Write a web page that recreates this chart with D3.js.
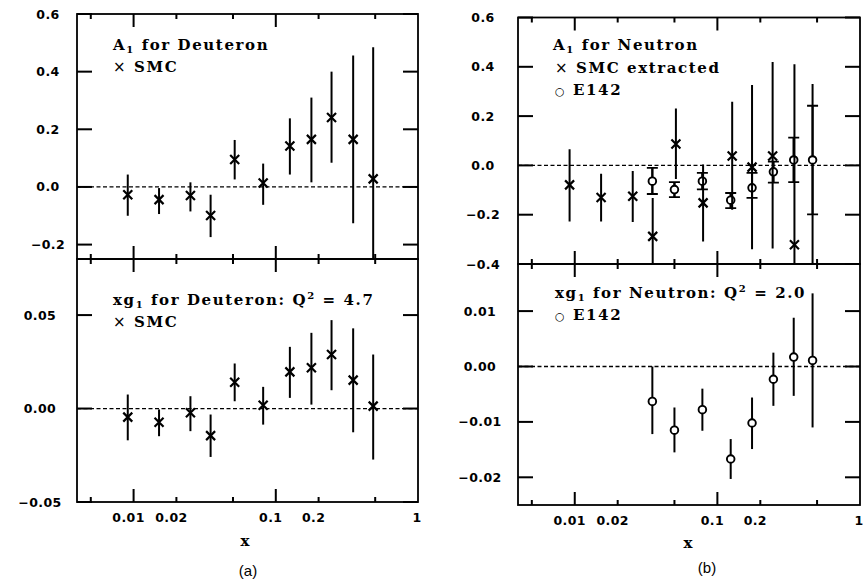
<!DOCTYPE html>
<html>
<head>
<meta charset="utf-8">
<script src="https://cdn.jsdelivr.net/npm/d3@7"></script>
<style>
  body { margin: 0; background: #fff; }
  svg { display: block; }
  .tl { font-family: "DejaVu Sans", sans-serif; font-weight: bold; font-size: 12.5px; fill: #000; letter-spacing: 0.4px; }
  .lbl { font-family: "DejaVu Serif", serif; font-weight: bold; font-size: 15px; fill: #000; }
</style>
</head>
<body>
<svg id="chart" width="868" height="582"><defs id="defs"></defs></svg>
<script>
/* ---------------- data ---------------- */

// SMC deuteron, x bins
var smcDX = [0.0091, 0.0151, 0.0251, 0.0348, 0.0514, 0.0815, 0.1256, 0.178, 0.2466, 0.35, 0.484];
// A1 deuteron
var smcDA1   = [-0.027, -0.044, -0.030, -0.099, 0.095, 0.014, 0.142, 0.165, 0.241, 0.165, 0.028];
var smcDA1Lo = [-0.100, -0.094, -0.085, -0.174, 0.026, -0.062, 0.043, 0.016, 0.084, -0.126, -0.43];
var smcDA1Hi = [0.043, -0.004, 0.016, -0.027, 0.163, 0.081, 0.238, 0.310, 0.400, 0.456, 0.485];
// xg1 deuteron
var smcDxg1   = [-0.0046, -0.0073, -0.0023, -0.0145, 0.0141, 0.0018, 0.0196, 0.0218, 0.0289, 0.0152, 0.0013];
var smcDxg1Lo = [-0.0170, -0.0148, -0.0121, -0.0259, 0.0039, -0.0086, 0.0057, 0.0021, 0.0098, -0.0127, -0.0273];
var smcDxg1Hi = [0.0075, -0.0005, 0.0066, -0.0032, 0.0241, 0.0116, 0.0330, 0.0405, 0.0473, 0.0429, 0.0289];

// SMC extracted neutron A1
var smcNX    = [0.0092, 0.0153, 0.0255, 0.0352, 0.0512, 0.0794, 0.127, 0.175, 0.244, 0.347];
var smcNA1   = [-0.079, -0.130, -0.125, -0.288, 0.087, -0.152, 0.038, -0.007, 0.038, -0.322];
var smcNA1Lo = [-0.228, -0.228, -0.230, -0.45, -0.055, -0.309, -0.18, -0.34, -0.337, -1.05];
var smcNA1Hi = [0.066, -0.034, -0.023, -0.132, 0.231, 0.004, 0.258, 0.326, 0.419, 0.41];

// E142 neutron
var e142X    = [0.035, 0.050, 0.0785, 0.124, 0.175, 0.247, 0.343, 0.465];
var e142A1   = [-0.064, -0.098, -0.064, -0.141, -0.091, -0.026, 0.022, 0.022];
var e142A1Lo = [-0.116, -0.129, -0.097, -0.173, -0.132, -0.070, -0.068, -0.199];   // capped
var e142A1Hi = [-0.010, -0.068, -0.030, -0.112, -0.030, 0.015, 0.113, 0.242];
var e142A1TotLo = [-0.116, -0.129, -0.097, -0.173, -0.132, -0.070, -0.068, -0.60]; // full line
var e142A1TotHi = [-0.010, -0.068, -0.030, -0.112, -0.030, 0.015, 0.113, 0.330];
var e142xg1   = [-0.0063, -0.0115, -0.0078, -0.0167, -0.0102, -0.0023, 0.0017, 0.0011];
var e142xg1Lo = [-0.0122, -0.0155, -0.0116, -0.0203, -0.0149, -0.0071, -0.0053, -0.0110];
var e142xg1Hi = [0.0000, -0.0074, -0.0040, -0.0131, -0.0056, 0.0025, 0.0088, 0.0132];

// axes
var xMajor = [0.01, 0.1];
var xMinor = [0.005, 0.02, 0.05, 0.2, 0.5];
var xLabelVals = [0.01, 0.02, 0.1, 0.2, 1];
var xLabels = ["0.01", "0.02", "0.1", "0.2", "1"];

var tlTicks = [-0.2, 0, 0.2, 0.4, 0.6], tlLabels = ["\u22120.2", "0.0", "0.2", "0.4", "0.6"];
var blTicks = [-0.05, 0, 0.05],         blLabels = ["\u22120.05", "0.00", "0.05"];
var trTicks = [-0.4, -0.2, 0, 0.2, 0.4, 0.6], trLabels = ["\u22120.4", "\u22120.2", "0.0", "0.2", "0.4", "0.6"];
var brTicks = [-0.02, -0.01, 0, 0.01],  brLabels = ["\u22120.02", "\u22120.01", "0.00", "0.01"];

/* ---------------- drawing ---------------- */

var svg = d3.select("#chart");
var defs = d3.select("#defs");
var clipN = 0;
var panels = [];

function zip(xs, ys, lo, hi) {
    return xs.map(function (d, i) { return { x: d, y: ys[i], lo: lo[i], hi: hi[i] }; });
}

function panel(p) {
    var x = d3.scaleLog().domain([0.004, 1]).range([p.x0, p.x1]);
    var y = d3.scaleLinear().domain(p.yDom).range([p.y1, p.y0]);
    var g = svg.append("g");

    var id = "clip" + (clipN++);
    defs.append("clipPath").attr("id", id).append("rect")
        .attr("x", p.x0).attr("y", p.y0).attr("width", p.x1 - p.x0).attr("height", p.y1 - p.y0);

    // zero line
    g.append("line")
        .attr("x1", p.x0).attr("x2", p.x1).attr("y1", y(0)).attr("y2", y(0))
        .attr("stroke", "#000").attr("stroke-width", 1.3).attr("stroke-dasharray", "4,2.5");

    var marks = g.append("g").attr("clip-path", "url(#" + id + ")");

    (p.sets || []).forEach(function (s) {
        var data = zip(s.x, s.y, s.lo, s.hi);
        var sg = marks.append("g");
        if (s.tlo) {
            sg.selectAll("line.tot").data(data.map(function (d, i) { return { x: d.x, lo: s.tlo[i], hi: s.thi[i] }; }))
                .join("line").attr("class", "tot")
                .attr("x1", function (d) { return x(d.x); }).attr("x2", function (d) { return x(d.x); })
                .attr("y1", function (d) { return y(d.lo); }).attr("y2", function (d) { return y(d.hi); })
                .attr("stroke", "#000").attr("stroke-width", 2);
        }
        sg.selectAll("line.err").data(data).join("line").attr("class", "err")
            .attr("x1", function (d) { return x(d.x); }).attr("x2", function (d) { return x(d.x); })
            .attr("y1", function (d) { return y(d.lo); }).attr("y2", function (d) { return y(d.hi); })
            .attr("stroke", "#000").attr("stroke-width", 2);
        if (s.caps) {
            ["lo", "hi"].forEach(function (k) {
                sg.selectAll("line.cap" + k).data(data).join("line").attr("class", "cap" + k)
                    .attr("x1", function (d) { return x(d.x) - 5.5; }).attr("x2", function (d) { return x(d.x) + 5.5; })
                    .attr("y1", function (d) { return y(d[k]); }).attr("y2", function (d) { return y(d[k]); })
                    .attr("stroke", "#000").attr("stroke-width", 1.8);
            });
        }
        if (s.mark === "x") {
            sg.selectAll("path.m").data(data).join("path").attr("class", "m")
                .attr("d", function (d) {
                    var cx = x(d.x), cy = y(d.y), r = 4.5;
                    return "M" + (cx - r) + "," + (cy - r) + "L" + (cx + r) + "," + (cy + r) +
                           "M" + (cx - r) + "," + (cy + r) + "L" + (cx + r) + "," + (cy - r);
                })
                .attr("stroke", "#000").attr("stroke-width", 2.2).attr("fill", "none");
        } else {
            sg.selectAll("circle.m").data(data).join("circle").attr("class", "m")
                .attr("cx", function (d) { return x(d.x); }).attr("cy", function (d) { return y(d.y); })
                .attr("r", 3.8).attr("fill", "#fff").attr("stroke", "#000").attr("stroke-width", 1.9);
        }
    });

    // frame
    g.append("rect")
        .attr("x", p.x0).attr("y", p.y0).attr("width", p.x1 - p.x0).attr("height", p.y1 - p.y0)
        .attr("fill", "none").attr("stroke", "#000").attr("stroke-width", 1.8);

    // tick labels
    g.selectAll("text.ylab").data(p.yTicks).join("text").attr("class", "tl ylab")
        .attr("x", p.x0 - p.labOff).attr("y", function (d) { return y(d); }).attr("dy", "0.36em")
        .attr("text-anchor", "middle")
        .text(function (d, i) { return p.yLabels[i]; });

    if (p.xLab) {
        g.selectAll("text.xlab").data(xLabelVals).join("text").attr("class", "tl xlab")
            .attr("x", function (d) { return x(d) + (d === 1 ? -1 : -5); })
            .attr("y", p.y1 + 20).attr("text-anchor", "middle")
            .text(function (d, i) { return xLabels[i]; });
    }

    // legend text
    p.text.forEach(function (t) {
        var tx = g.append("text").attr("class", "lbl").attr("x", t.x).attr("y", t.y)
            .attr("letter-spacing", 1.6);
        t.parts.forEach(function (q) {
            var ts = tx.append("tspan").text(q[0]);
            if (q[1] === "sub") ts.attr("font-size", 10).attr("dy", 3);
            if (q[1] === "sup") ts.attr("font-size", 10).attr("dy", -6);
            if (q[1] === "base") ts.attr("dy", q[2]);
            if (q[1] === "sym") ts.attr("font-family", "DejaVu Sans").attr("font-weight", "normal").attr("font-size", q[2]);
        });
    });

    panels.push({ p: p, x: x, y: y });
}

// ticks for every panel as small filled rects, drawn last
function drawTicks(o, n) {
    var p = o.p, x = o.x, y = o.y;
    var tk = [];
    xMajor.forEach(function (d) {
        tk.push({ x: x(d) - 1, y: p.y1 - 13, w: 2, h: 13 });
        tk.push({ x: x(d) - 1, y: p.y0, w: 2, h: 13 });
    });
    xMinor.forEach(function (d) {
        tk.push({ x: x(d) - 1, y: p.y1 - 5, w: 2, h: 5 });
        tk.push({ x: x(d) - 1, y: p.y0, w: 2, h: 5 });
    });
    p.yTicks.forEach(function (d) {
        tk.push({ x: p.x0, y: y(d) - 1, w: 15, h: 2 });
        tk.push({ x: p.x1 - 15, y: y(d) - 1, w: 15, h: 2 });
    });
    svg.append("g").attr("class", "ticks" + n)
        .selectAll("rect").data(tk).join("rect")
        .attr("x", function (d) { return d.x; }).attr("y", function (d) { return d.y; })
        .attr("width", function (d) { return d.w; }).attr("height", function (d) { return d.h; })
        .attr("fill", "#000");
}

// (a) left
panel({
    x0: 77, x1: 418, y0: 14, y1: 259, yDom: [-0.25, 0.6], yTicks: tlTicks, yLabels: tlLabels, labOff: 29,
    sets: [{ x: smcDX, y: smcDA1, lo: smcDA1Lo, hi: smcDA1Hi, mark: "x" }],
    text: [
        { x: 113, y: 50, parts: [["A"], ["1", "sub"], [" for Deuteron", "base", -3]] },
        { x: 113, y: 72, parts: [["\u00d7", "sym", 15], [" SMC"]] }
    ]
});
panel({
    x0: 77, x1: 418, y0: 259, y1: 502, yDom: [-0.05, 0.08], yTicks: blTicks, yLabels: blLabels, labOff: 37,
    xLab: true,
    sets: [{ x: smcDX, y: smcDxg1, lo: smcDxg1Lo, hi: smcDxg1Hi, mark: "x" }],
    text: [
        { x: 113, y: 305, parts: [["xg"], ["1", "sub"], [" for Deuteron: Q", "base", -3], ["2", "sup"], [" = 4.7", "base", 6]] },
        { x: 113, y: 327, parts: [["\u00d7", "sym", 15], [" SMC"]] }
    ]
});

// (b) right
panel({
    x0: 518, x1: 860, y0: 17.5, y1: 264, yDom: [-0.4, 0.6], yTicks: trTicks, yLabels: trLabels, labOff: 35,
    sets: [
        { x: e142X, y: e142A1, lo: e142A1Lo, hi: e142A1Hi, tlo: e142A1TotLo, thi: e142A1TotHi, mark: "o", caps: true },
        { x: smcNX, y: smcNA1, lo: smcNA1Lo, hi: smcNA1Hi, mark: "x" }
    ],
    text: [
        { x: 553, y: 50, parts: [["A"], ["1", "sub"], [" for Neutron", "base", -3]] },
        { x: 555, y: 73, parts: [["\u00d7", "sym", 15], [" SMC extracted"]] },
        { x: 555, y: 95, parts: [["\u25cb", "sym", 11], [" E142"]] }
    ]
});
panel({
    x0: 518, x1: 860, y0: 264, y1: 505, yDom: [-0.025, 0.0185], yTicks: brTicks, yLabels: brLabels, labOff: 38,
    xLab: true,
    sets: [{ x: e142X, y: e142xg1, lo: e142xg1Lo, hi: e142xg1Hi, mark: "o" }],
    text: [
        { x: 555, y: 298, parts: [["xg"], ["1", "sub"], [" for Neutron: Q", "base", -3], ["2", "sup"], [" = 2.0", "base", 6]] },
        { x: 555, y: 320, parts: [["\u25cb", "sym", 11], [" E142"]] }
    ]
});

panels.forEach(drawTicks);

// axis titles and panel captions
svg.append("text").attr("class", "lbl").attr("x", 245).attr("y", 546).attr("text-anchor", "middle").attr("font-size", 17).text("x");
svg.append("text").attr("class", "lbl").attr("x", 688).attr("y", 548).attr("text-anchor", "middle").attr("font-size", 17).text("x");
svg.append("text").attr("x", 248).attr("y", 576).attr("text-anchor", "middle")
    .attr("font-family", "Liberation Sans, Arial, sans-serif").attr("font-size", 15).text("(a)");
svg.append("text").attr("x", 707).attr("y", 573).attr("text-anchor", "middle")
    .attr("font-family", "Liberation Sans, Arial, sans-serif").attr("font-size", 15).text("(b)");
</script>
</body>
</html>
